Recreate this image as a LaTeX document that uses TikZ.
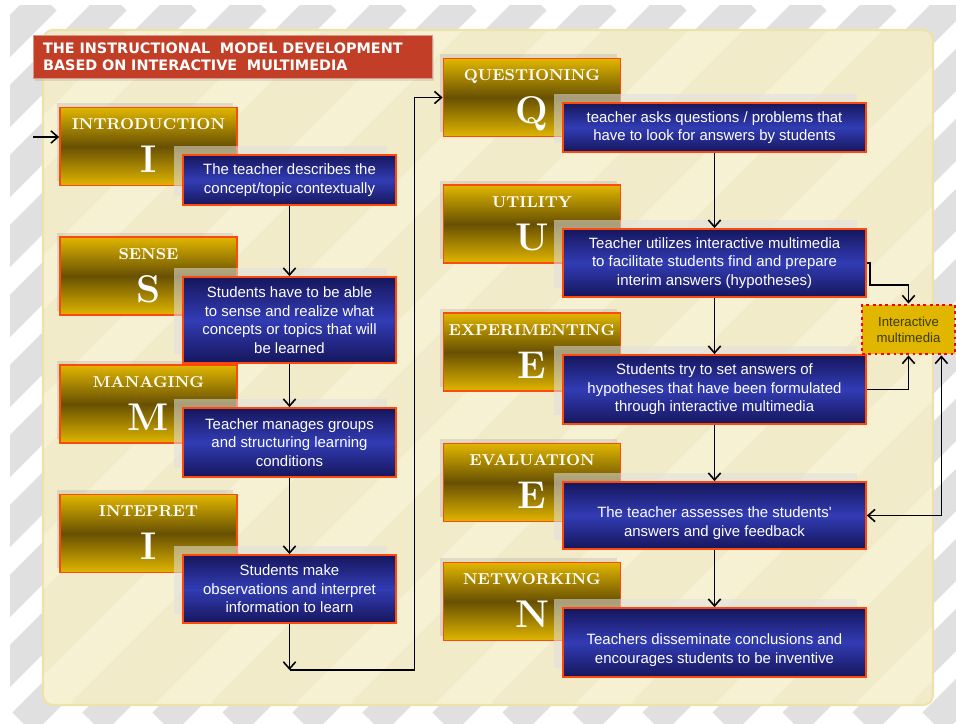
\documentclass[tikz,border=0pt]{standalone}
\usepackage{fontspec}
\newfontfamily\boxfont{Liberation Sans}
\newfontfamily\headfont{DejaVu Sans}
\usetikzlibrary{positioning,calc,arrows.meta,shadows}

\definecolor{gold}{RGB}{224,182,0}
\definecolor{darkgold}{RGB}{104,80,2}
\definecolor{navy}{RGB}{22,22,92}
\definecolor{midblue}{RGB}{50,60,180}
\definecolor{edge}{RGB}{255,72,12}
\definecolor{brick}{RGB}{194,62,38}
\definecolor{cream}{RGB}{247,241,212}
\definecolor{creamband}{RGB}{240,232,196}
\definecolor{panelline}{RGB}{236,226,170}
\definecolor{stripe}{RGB}{224,224,224}
\definecolor{imtext}{RGB}{60,60,0}

\tikzset{
  goldbox/.style={draw=edge, line width=1pt, top color=gold, bottom color=gold, middle color=darkgold,
    minimum width=3.54cm, minimum height=1.56cm, text=white, font=\fontsize{22}{24}\selectfont\bfseries,
    text height=30pt, text depth=0pt,
    drop shadow={shadow xshift=-2pt, shadow yshift=2.5pt, opacity=.2},
    label={[goldtitle]north:#1}},
  goldtitle/.style={anchor=north, yshift=-3pt, text=white, text height=6.5pt, text depth=0pt,
    font=\fontsize{9}{10}\selectfont\bfseries},
  bluebox/.style={draw=edge, line width=1pt, top color=navy, bottom color=navy, middle color=midblue,
    text=white, align=center, font=\boxfont\fontsize{8.5}{10.5}\selectfont, inner sep=2pt,
    drop shadow={shadow xshift=-5pt, shadow yshift=5pt, fill=white!75!gray, opacity=.55}},
  leftblue/.style={bluebox, minimum width=4.26cm},
  rightblue/.style={bluebox, minimum width=6.06cm},
  lowtext/.style={text height=25.5pt},
  titlebox/.style={fill=brick, draw=brick!55!white, text=white, align=left, text width=7.58cm,
    minimum height=0.86cm, inner xsep=0.2cm, inner ysep=3pt,
    font=\headfont\bfseries\fontsize{8.2}{9.6}\selectfont,
    drop shadow={shadow xshift=1pt, shadow yshift=-1.5pt, opacity=.2}},
  imbox/.style={fill=gold, draw=red, dotted, line width=1.6pt, minimum width=1.86cm,
    minimum height=0.98cm, align=center, text=imtext, inner sep=1pt,
    font=\boxfont\fontsize{7.5}{9}\selectfont},
  flow/.style={line width=0.9pt, black},
}

\begin{document}
\begin{tikzpicture}[x=0.02cm, y=-0.02cm, >={Straight Barb[length=4pt,width=7pt]}]
  \useasboundingbox (0,0) rectangle (956,723);
  % striped background
  \fill[white] (0,0) rectangle (956,723);
  \begin{scope}
    \clip (10,6) rectangle (956,723);
    \foreach \s in {-747,-677,...,956}
      \draw[stripe, line width=0.6cm] (\s,723) -- ++(723,-723);
  \end{scope}
  % panel
  \fill[cream, rounded corners=0.2cm] (43,30) rectangle (933,705);
  \begin{scope}
    \clip[rounded corners=0.2cm] (43,30) rectangle (933,705);
    \foreach \s in {-747,-607,...,956}
      \draw[creamband, line width=1.2cm, opacity=.6] (\s,723) -- ++(723,-723);
  \end{scope}
  \draw[panelline, line width=1.2pt, rounded corners=0.2cm] (43,30) rectangle (933,705);

  \node[titlebox] (title) at (232.5,56.5)
    {THE INSTRUCTIONAL\ \ MODEL DEVELOPMENT\\BASED ON INTERACTIVE\ \ MULTIMEDIA};

  % left column
  \node[goldbox=INTRODUCTION] (intro) at (148.5,146.5) {I};
  \node[goldbox=SENSE] (sense) at (148.5,276) {S};
  \node[goldbox=MANAGING] (manage) at (148.5,404) {M};
  \node[goldbox=INTEPRET] (interp) at (148.5,533.5) {I};

  \node[leftblue, minimum height=1.0cm] (b1) at (289.5,180)
    {The teacher describes the\\concept/topic contextually};
  \node[leftblue, minimum height=1.72cm] (b2) at (289.5,320)
    {Students have to be able\\to sense and realize what\\concepts or topics that will\\be learned};
  \node[leftblue, minimum height=1.38cm] (b3) at (289.5,442.5)
    {Teacher manages groups\\and structuring learning\\conditions};
  \node[leftblue, minimum height=1.36cm] (b4) at (289.5,589)
    {Students make\\observations and interpret\\information to learn};

  % right column
  \node[goldbox=QUESTIONING] (quest) at (532,97.5) {Q};
  \node[goldbox=UTILITY] (util) at (532,224) {U};
  \node[goldbox=EXPERIMENTING] (exper) at (532,352) {E};
  \node[goldbox=EVALUATION] (evalu) at (532,482.5) {E};
  \node[goldbox=NETWORKING] (netw) at (532,601.5) {N};

  \node[rightblue, minimum height=0.98cm] (bq) at (714.5,127.5)
    {teacher asks questions / problems that\\have to look for answers by students};
  \node[rightblue, minimum height=1.36cm] (bu) at (714.5,263)
    {Teacher utilizes interactive multimedia\\to facilitate students find and prepare\\interim answers (hypotheses)};
  \node[rightblue, minimum height=1.38cm] (be) at (714.5,389.5)
    {Students try to set answers of\\hypotheses that have been formulated\\through interactive multimedia};
  \node[rightblue, lowtext, minimum height=1.34cm] (bev) at (714.5,515.5)
    {The teacher assesses the students'\\answers and give feedback};
  \node[rightblue, lowtext, minimum height=1.38cm] (bn) at (714.5,642.5)
    {Teachers disseminate conclusions and\\encourages students to be inventive};

  \node[imbox] (im) at (908.5,329.5) {Interactive\\multimedia};

  % connectors
  \coordinate (entry) at (33,137);
  \draw[flow,->] (entry) -- (entry -| intro.west);
  \draw[flow,->] (b1) -- (b2);
  \draw[flow,->] (b2) -- (b3);
  \draw[flow,->] (b3) -- (b4);
  \coordinate (loop) at (b4.south |- 0,670);
  \draw[flow,->] (b4) -- (loop);
  \draw[flow,->] (loop) -- ++(125,0) |- (quest.west);
  \draw[flow,->] (bq) -- (bu);
  \draw[flow,->] (bu) -- (be);
  \draw[flow,->] (be) -- (bev);
  \draw[flow,->] (bev) -- (bn);
  \draw[flow,->] (bu.east) -- ++(3,0) -- ++(0,22) -| (im.north);
  \draw[flow,->] (be.east) -| (im.south);
  \draw[flow,<->] (bev.east) -| ([xshift=-0.3cm]im.south east);
\end{tikzpicture}
\end{document}
